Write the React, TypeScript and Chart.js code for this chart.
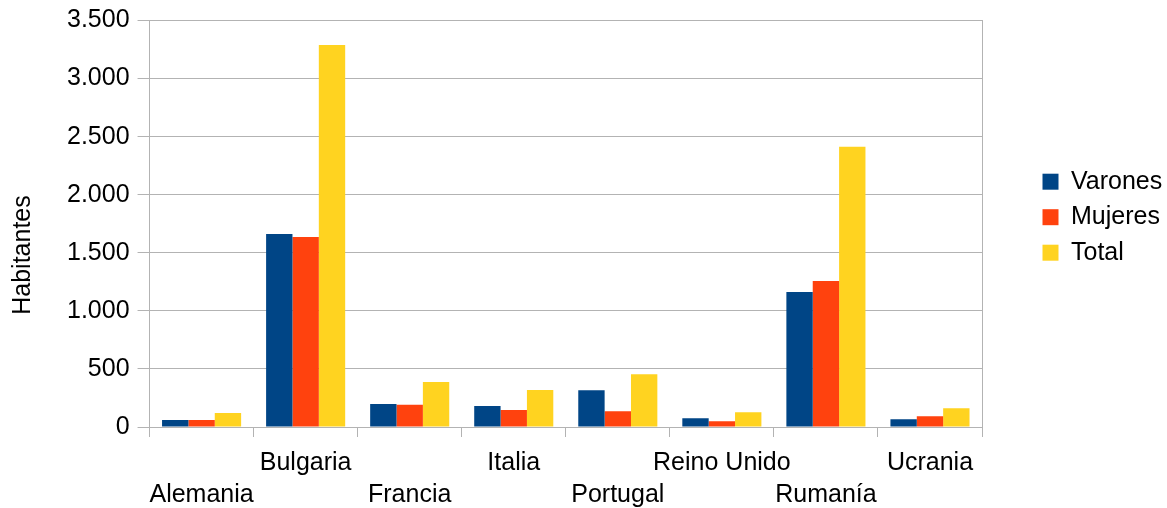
import React, { useEffect, useRef } from "react";
import { Chart, registerables } from "chart.js";

Chart.register(...registerables);

const categories = ["Alemania", "Bulgaria", "Francia", "Italia", "Portugal", "Reino Unido", "Rumanía", "Ucrania"];
const varones = [60, 1662, 198, 181, 316, 75, 1162, 66];
const mujeres = [60, 1636, 192, 146, 135, 49, 1257, 92];
const total = [120, 3290, 388, 319, 454, 127, 2412, 162];
const yTickValues = [0, 500, 1000, 1500, 2000, 2500, 3000, 3500];
const yTickLabels = ["0", "500", "1.000", "1.500", "2.000", "2.500", "3.000", "3.500"];
const yTitle = "Habitantes";

const FONT = "'Liberation Sans', Arial, sans-serif";
const GRID = "#b3b3b3";

export default function App() {
  const ref = useRef<HTMLCanvasElement | null>(null);
  useEffect(() => {
    document.body.style.margin = "0";
    const canvas = ref.current;
    if (!canvas) return;
    const chart = new Chart(canvas, {
      type: "bar",
      data: {
        labels: categories,
        datasets: [
          { label: "Varones", data: varones, backgroundColor: "#004586" },
          { label: "Mujeres", data: mujeres, backgroundColor: "#ff420e" },
          { label: "Total", data: total, backgroundColor: "#ffd320" },
        ],
      },
      options: {
        responsive: false,
        animation: false,
        maintainAspectRatio: false,
        layout: { padding: { top: 4, left: 0, right: 0, bottom: 0 } },
        datasets: { bar: { categoryPercentage: 0.76, barPercentage: 1 } },
        plugins: {
          tooltip: { enabled: false },
          legend: {
            position: "right",
            align: "start",
            maxWidth: 135,
            title: { display: true, text: " ", font: { size: 1 }, padding: { top: 153.5, bottom: 0 } },
            labels: {
              font: { family: FONT, size: 25 },
              color: "#000",
              boxWidth: 16,
              boxHeight: 16,
              padding: 10.5,
            },
          },
        },
        scales: {
          x: {
            offset: true,
            grid: { offset: true, drawOnChartArea: false, drawTicks: true, tickLength: 10, color: GRID },
            border: { display: true, color: GRID },
            afterFit: (scale: any) => {
              scale.height = 81;
            },
            ticks: {
              autoSkip: false,
              maxRotation: 0,
              minRotation: 0,
              padding: 10,
              color: "#000",
              font: { family: FONT, size: 25, lineHeight: 1.28 },
              callback: (_v: any, i: number) => (i % 2 === 0 ? ["", categories[i]] : [categories[i], ""]),
            },
          },
          y: {
            min: 0,
            max: 3500,
            afterBuildTicks: (scale: any) => {
              scale.ticks = yTickValues.map((v) => ({ value: v }));
            },
            grid: { color: GRID, tickLength: 12 },
            border: { display: true, color: GRID },
            ticks: {
              padding: 8,
              color: "#000",
              font: { family: FONT, size: 25, lineHeight: 1.0 },
              callback: (v: any) => yTickLabels[yTickValues.indexOf(Number(v))] ?? "",
            },
            title: {
              display: true,
              text: yTitle + "         ",
              color: "#000",
              font: { family: FONT, size: 25 },
              padding: { top: 8, bottom: 21 },
            },
          },
          yR: {
            position: "right",
            min: 0,
            max: 3500,
            grid: { display: false, drawTicks: false },
            border: { display: true, color: GRID },
            ticks: { display: false },
            afterFit: (scale: any) => {
              scale.width = 50;
            },
          },
        },
      },
    });
    return () => chart.destroy();
  }, []);
  return (
    <div style={{ width: 1167, height: 508 }}>
      <canvas ref={ref} width={1167} height={508} />
    </div>
  );
}
